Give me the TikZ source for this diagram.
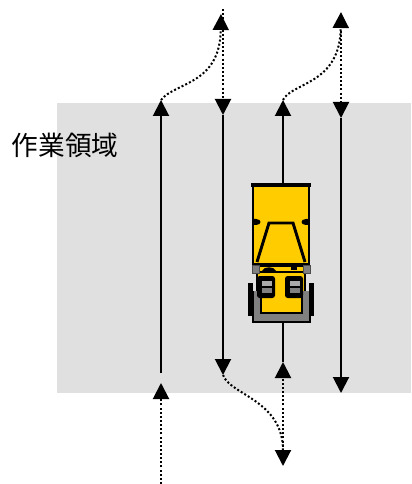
\documentclass[tikz,border=0pt]{standalone}
\usepackage{fontspec}
\newfontfamily\jpfont{Noto Sans CJK JP}
\usetikzlibrary{arrows.meta}
\definecolor{zone}{RGB}{224,224,224}
\definecolor{forkyellow}{RGB}{255,204,0}
\definecolor{forkgray}{RGB}{128,128,128}
\definecolor{wheeltop}{RGB}{170,170,170}
\begin{document}
\begin{tikzpicture}[x=0.75pt,y=-0.75pt,
  route/.style={line width=1.5pt,-{Triangle[length=12pt,width=12pt]}},
  transit/.style={route,dash pattern=on 1.5pt off 1.6pt},
  outline/.style={draw=black,line width=2.2pt}]
\useasboundingbox (0,0) rectangle (411,484);

% work area
\fill[zone] (57,103) rectangle (411,393);
\node[font=\jpfont\fontsize{20pt}{24pt}\selectfont] (area) at (65,145) {作業領域};

% lane coordinates
\coordinate (l1in)  at (161,484);
\coordinate (l1a)   at (161,383);
\coordinate (l1b)   at (161,373);
\coordinate (l1top) at (161,100);
\coordinate (l1out) at (221,14);

\coordinate (l2in)  at (223,9);
\coordinate (l2top) at (223,115);
\coordinate (l2bot) at (223,375);
\coordinate (l2out) at (283,466);

\coordinate (l3in)  at (283,455);
\coordinate (l3bot) at (283,362);
\coordinate (l3top) at (283,100);
\coordinate (l3out) at (341,12);

\coordinate (l4in)  at (341,14);
\coordinate (l4top) at (341,118);
\coordinate (l4bot) at (341,393);

% lane 1
\draw[transit] (l1in) -- (l1a);
\draw[route] (l1b) -- (l1top);
\draw[transit] (l1top) .. controls (175,82) and (220,85) .. (l1out);
% lane 2
\draw[transit] (l2in) -- (l2top);
\draw[route] (l2top) -- (l2bot);
\draw[transit] (l2bot) .. controls (230,395) and (283,400) .. (l2out);
% lane 3
\draw[transit] (l3in) -- (l3bot);
\draw[route] (l3bot) -- (l3top);
\draw[transit] (l3top) .. controls (292,82) and (340,85) .. (l3out);
% lane 4
\draw[transit] (l4in) -- (l4top);
\draw[route] (l4top) -- (l4bot);

% forklift, seen from above
\fill[black] (248,283) rectangle (253,316);
\fill[black] (309,283) rectangle (314,316);
\filldraw[fill=forkyellow,outline] (257,266) rectangle (305,314);
\fill[forkgray] (253,291) -- (253,322) -- (310,322) -- (310,291) -- (302,291)
  -- (302,313) -- (261,313) -- (261,291) -- cycle;
\draw[black,line width=1.4pt] (253,291) -- (253,322) -- (310,322) -- (310,291);
\draw[black,line width=1pt] (261,291) -- (261,313) -- (302,313) -- (302,291);
% front wheels
\foreach \wx in {257,285}{
  \fill[black,rounded corners=2pt] (\wx,276) rectangle ++(18,22);
  \fill[forkgray] (\wx+5,281) rectangle ++(10,12);
  \fill[wheeltop] (\wx+5,281) rectangle ++(10,5);
  \draw[black,line width=0.8pt] (\wx+5,287) -- ++(10,0);
}
% cab
\filldraw[fill=forkyellow,outline] (253,185) rectangle (309,264);
\draw[line width=2.4pt] (251,185) -- (311,185);
\fill (253,219) -- (256,219) .. controls (262,219) and (262,225) .. (256,225) -- (253,225) -- cycle;
\fill (309,219) -- (306,219) .. controls (300,219) and (300,225) .. (306,225) -- (309,225) -- cycle;
\draw[line width=2.2pt,line join=miter] (257,262) -- (269,223) -- (293,223) -- (305,262);
\draw[line width=2pt] (255,264) -- (307,264);
\draw[line width=1pt] (257,272) -- (305,272);
\filldraw[fill=forkgray,draw=black!70,line width=0.6pt] (252,265) rectangle (259,273);
\filldraw[fill=forkgray,draw=black!70,line width=0.6pt] (303,265) rectangle (310,273);
\fill (262,271) .. controls (264,266) and (274,266) .. (276,271) -- cycle;
\fill (291,266) rectangle (297,270);
\end{tikzpicture}
\end{document}
